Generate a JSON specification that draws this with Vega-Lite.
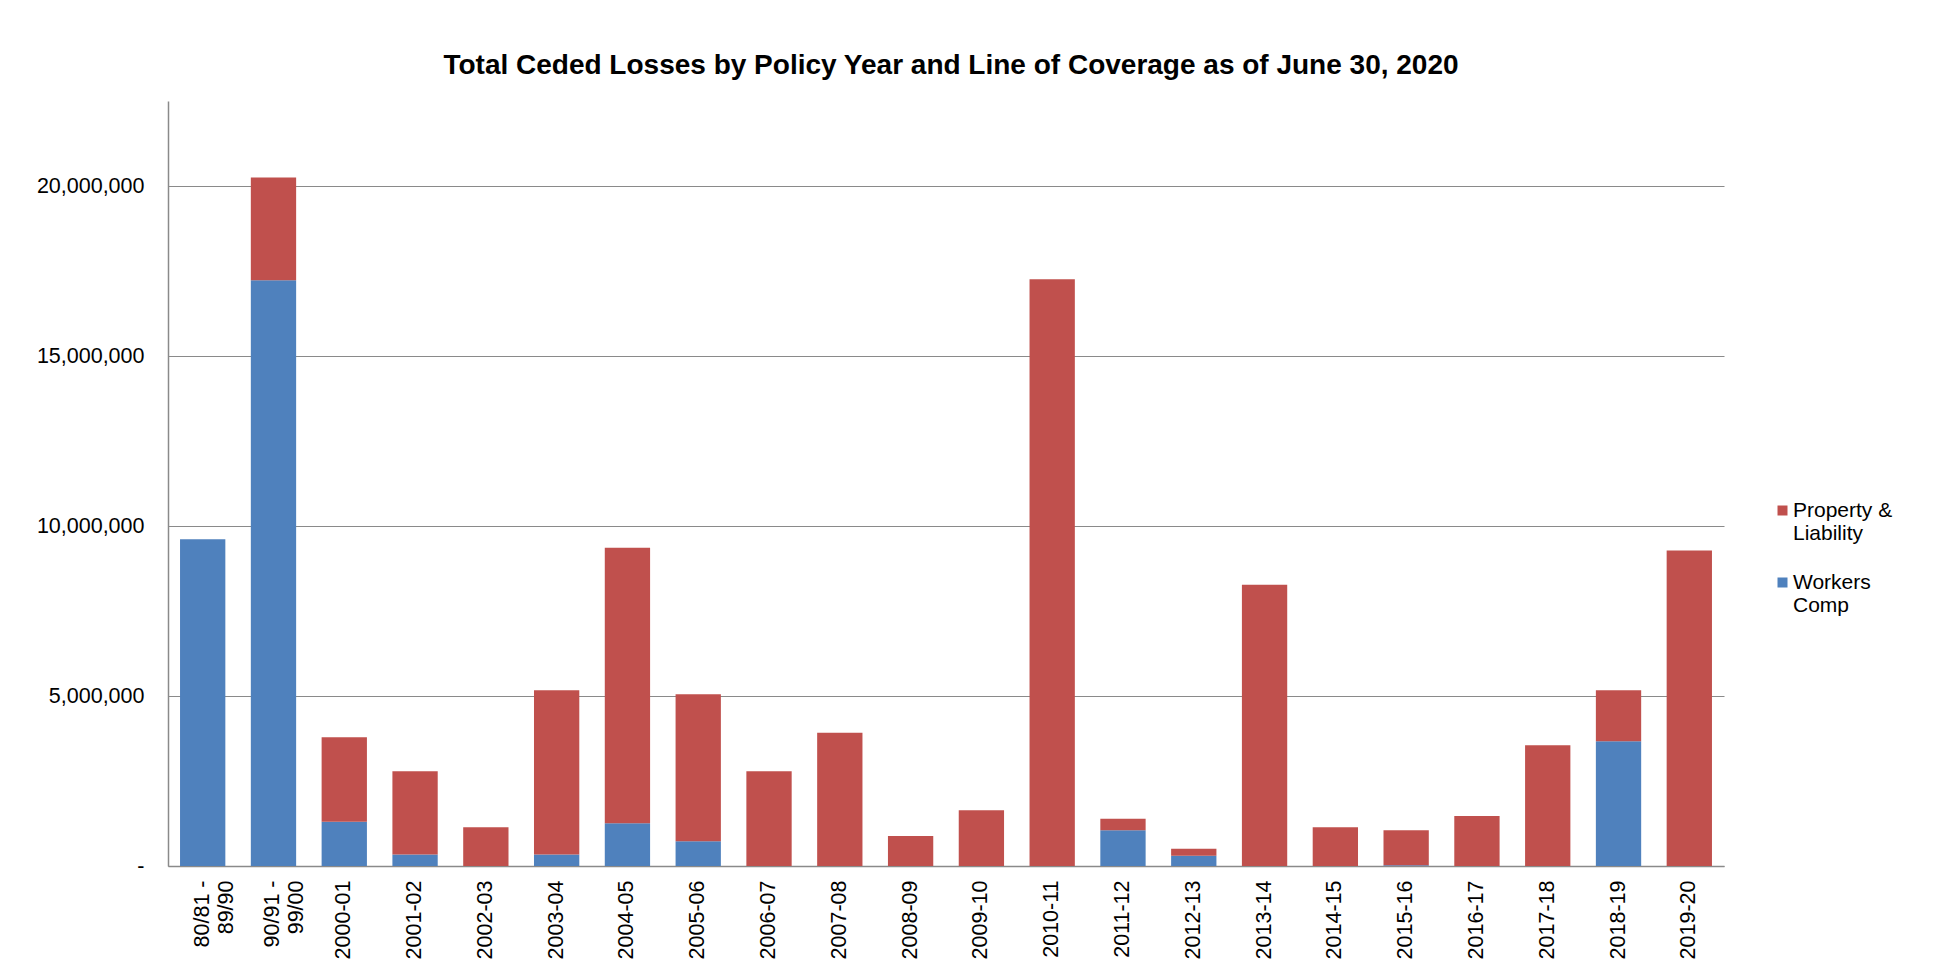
{
  "$schema": "https://vega.github.io/schema/vega-lite/v6.json",
  "width": 1556,
  "height": 765,
  "autosize": {"type": "none"},
  "padding": {"left": 168, "top": 101, "right": 211, "bottom": 105},
  "background": "white",
  "title": {
    "text": "Total Ceded Losses by Policy Year and Line of Coverage as of June 30, 2020",
    "font": "Liberation Sans",
    "fontSize": 28,
    "fontWeight": "bold",
    "color": "black",
    "anchor": "middle",
    "frame": "group",
    "baseline": "alphabetic",
    "offset": -1,
    "dx": 5
  },
  "data": {
    "values": [
      {"year": "80/81 - 89/90", "line": "Workers Comp", "losses": 9610000},
      {"year": "80/81 - 89/90", "line": "Property & Liability", "losses": 0},
      {"year": "90/91 - 99/00", "line": "Workers Comp", "losses": 17230000},
      {"year": "90/91 - 99/00", "line": "Property & Liability", "losses": 3020000},
      {"year": "2000-01", "line": "Workers Comp", "losses": 1300000},
      {"year": "2000-01", "line": "Property & Liability", "losses": 2490000},
      {"year": "2001-02", "line": "Workers Comp", "losses": 340000},
      {"year": "2001-02", "line": "Property & Liability", "losses": 2450000},
      {"year": "2002-03", "line": "Workers Comp", "losses": 0},
      {"year": "2002-03", "line": "Property & Liability", "losses": 1140000},
      {"year": "2003-04", "line": "Workers Comp", "losses": 340000},
      {"year": "2003-04", "line": "Property & Liability", "losses": 4830000},
      {"year": "2004-05", "line": "Workers Comp", "losses": 1260000},
      {"year": "2004-05", "line": "Property & Liability", "losses": 8100000},
      {"year": "2005-06", "line": "Workers Comp", "losses": 730000},
      {"year": "2005-06", "line": "Property & Liability", "losses": 4320000},
      {"year": "2006-07", "line": "Workers Comp", "losses": 0},
      {"year": "2006-07", "line": "Property & Liability", "losses": 2790000},
      {"year": "2007-08", "line": "Workers Comp", "losses": 0},
      {"year": "2007-08", "line": "Property & Liability", "losses": 3920000},
      {"year": "2008-09", "line": "Workers Comp", "losses": 0},
      {"year": "2008-09", "line": "Property & Liability", "losses": 880000},
      {"year": "2009-10", "line": "Workers Comp", "losses": 0},
      {"year": "2009-10", "line": "Property & Liability", "losses": 1640000},
      {"year": "2010-11", "line": "Workers Comp", "losses": 0},
      {"year": "2010-11", "line": "Property & Liability", "losses": 17260000},
      {"year": "2011-12", "line": "Workers Comp", "losses": 1050000},
      {"year": "2011-12", "line": "Property & Liability", "losses": 340000},
      {"year": "2012-13", "line": "Workers Comp", "losses": 300000},
      {"year": "2012-13", "line": "Property & Liability", "losses": 210000},
      {"year": "2013-14", "line": "Workers Comp", "losses": 0},
      {"year": "2013-14", "line": "Property & Liability", "losses": 8270000},
      {"year": "2014-15", "line": "Workers Comp", "losses": 0},
      {"year": "2014-15", "line": "Property & Liability", "losses": 1140000},
      {"year": "2015-16", "line": "Workers Comp", "losses": 20000},
      {"year": "2015-16", "line": "Property & Liability", "losses": 1030000},
      {"year": "2016-17", "line": "Workers Comp", "losses": 0},
      {"year": "2016-17", "line": "Property & Liability", "losses": 1470000},
      {"year": "2017-18", "line": "Workers Comp", "losses": 0},
      {"year": "2017-18", "line": "Property & Liability", "losses": 3550000},
      {"year": "2018-19", "line": "Workers Comp", "losses": 3670000},
      {"year": "2018-19", "line": "Property & Liability", "losses": 1500000},
      {"year": "2019-20", "line": "Workers Comp", "losses": 0},
      {"year": "2019-20", "line": "Property & Liability", "losses": 9280000}
    ]
  },
  "mark": {"type": "bar"},
  "encoding": {
    "x": {
      "field": "year",
      "type": "nominal",
      "sort": null,
      "scale": {"paddingInner": 0.36, "paddingOuter": 0.17},
      "axis": {
        "title": null,
        "labelAngle": -90,
        "labelFont": "Liberation Sans",
        "labelFontSize": 21.5,
        "labelColor": "black",
        "labelLineHeight": 24,
        "ticks": false,
        "labelPadding": 14,
        "domainColor": "#8a8a8a",
        "domainWidth": 1.5,
        "labelExpr": "indexof(datum.label, ' - ') > 0 ? [split(datum.label, ' - ')[0] + ' -', split(datum.label, ' - ')[1]] : datum.label"
      }
    },
    "y": {
      "field": "losses",
      "type": "quantitative",
      "stack": "zero",
      "scale": {"domain": [0, 22500000], "nice": false},
      "axis": {
        "title": null,
        "values": [0, 5000000, 10000000, 15000000, 20000000],
        "labelExpr": "datum.value == 0 ? '-' : format(datum.value, ',')",
        "labelFont": "Liberation Sans",
        "labelFontSize": 21.5,
        "labelColor": "black",
        "ticks": false,
        "labelPadding": 24,
        "gridColor": "#8a8a8a",
        "gridWidth": 1.2,
        "domainColor": "#8a8a8a",
        "domainWidth": 1.5
      }
    },
    "color": {
      "field": "line",
      "type": "nominal",
      "scale": {"domain": ["Property & Liability", "Workers Comp"], "range": ["#C0504D", "#4F81BD"]},
      "legend": {
        "title": null,
        "orient": "none",
        "legendX": 1604,
        "legendY": 399,
        "symbolType": "square",
        "symbolSize": 100,
        "symbolStrokeWidth": 0,
        "labelFont": "Liberation Sans",
        "labelFontSize": 21,
        "labelColor": "black",
        "labelLineHeight": 29,
        "labelOffset": 0,
        "labelLimit": 0,
        "rowPadding": 27,
        "labelExpr": "datum.label == 'Property & Liability' ? ['Property &', 'Liability'] : ['Workers', 'Comp']"
      }
    },
    "order": {"field": "line", "sort": "descending"}
  },
  "config": {"view": {"stroke": null}}
}
